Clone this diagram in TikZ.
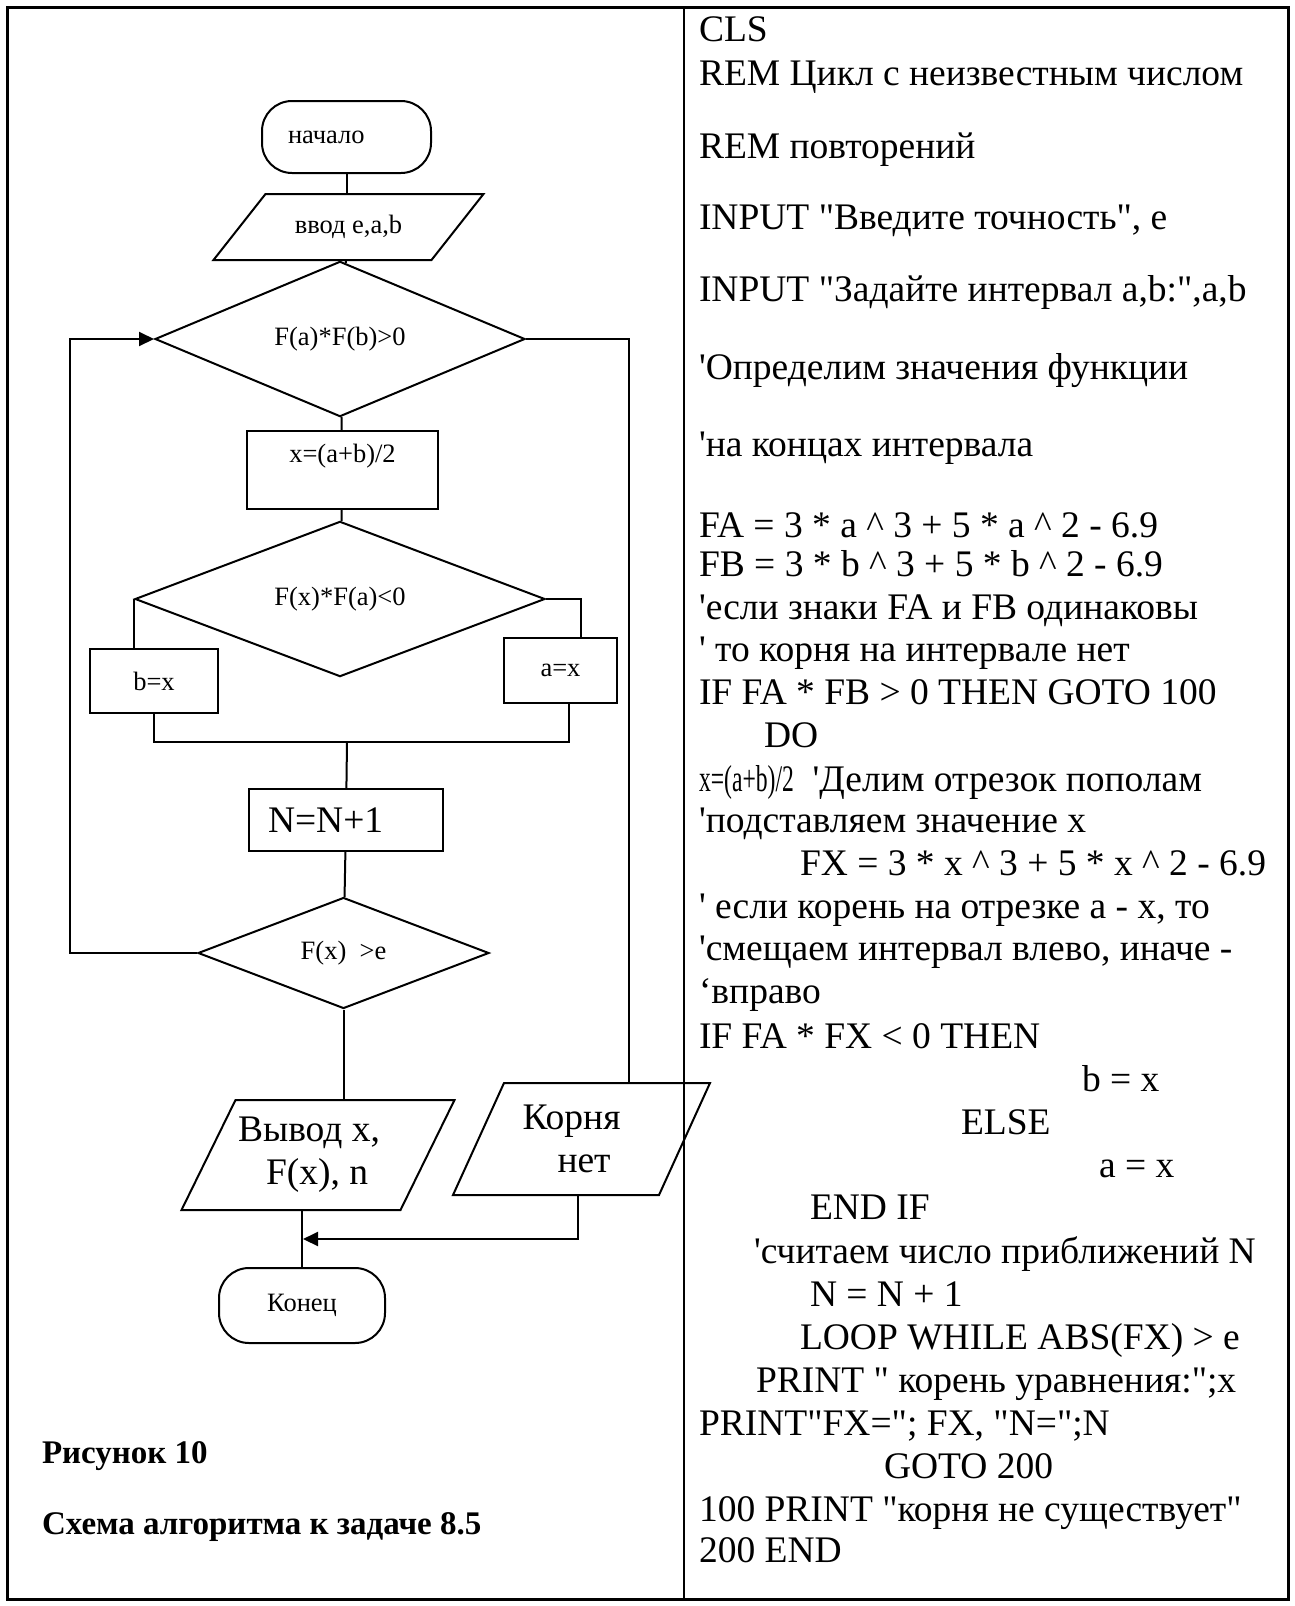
\documentclass[tikz,border=0pt]{standalone}
\usepackage{fontspec}
\usepackage{graphicx}
\setmainfont{Liberation Serif}[Ligatures=TeXOff]
\usetikzlibrary{shapes.geometric, arrows.meta}
\newcommand\apos{\textquotesingle}
\newcommand\caret{\textasciicircum}
% slanted box drawn round a plain node: #1 node name, #2 half of the slant
\newcommand\iobox[2]{\draw ([xshift=-#2]#1.south west) -- ([xshift=-#2]#1.south east) -- ([xshift=#2]#1.north east) -- ([xshift=#2]#1.north west) -- cycle;}

\begin{document}
\begin{tikzpicture}[x=1pt, y=-1pt, line width=2pt,
    every node/.style={font=\fontsize{26.5}{30}\selectfont},
    term/.style={draw, rectangle, rounded corners=30pt},
    proc/.style={draw, rectangle},
    cond/.style={draw, diamond, inner sep=0pt},
    io/.style={rectangle},
    big/.style={font=\fontsize{37.5}{43}\selectfont},
    code/.style={anchor=base west, inner sep=0pt, font=\fontsize{37.5}{43}\selectfont},
    capt/.style={anchor=base west, inner sep=0pt, font=\fontsize{33}{36}\selectfont\bfseries},
    >={Triangle[length=15pt, width=14pt]}]
    \useasboundingbox (0,0) rectangle (1295,1606);

    % frame and column divider
    \draw [line width=3pt] (7,7) rectangle (1288,1599);
    \draw [line width=2.5pt] (684,7) -- (684,1599);

    % flowchart
    \node [term, text width=117pt, inner xsep=26pt, minimum height=72pt, align=left] (start) at (346.5,137) {начало};
    \node [io, minimum width=216pt, minimum height=64pt] (in) at (348.5,227) {ввод e,a,b};
    \iobox{in}{26pt}
    \node [cond, minimum width=370pt, minimum height=112pt] (d1) at (340,339) {F(a)*F(b)>0};
    \node [proc, minimum width=191pt, minimum height=78pt, text depth=33pt] (calc) at (342.5,470) {x=(a+b)/2};
    \node [cond, minimum width=410pt, minimum height=113pt] (d2) at (340,599) {F(x)*F(a)<0};
    \node [proc, minimum width=128pt, minimum height=64pt] (bx) at (154,681) {b=x};
    \node [proc, minimum width=113pt, minimum height=65pt] (ax) at (560.5,670.5) {a=x};
    \coordinate (jn) at (347,742);
    \node [proc, big, text width=156pt, inner xsep=19pt, minimum height=62pt, align=left] (cnt) at (346,820) {N=N+1};
    \node [cond, minimum width=291pt, minimum height=111pt] (d3) at (343.5,953) {F(x) \ >e};
    \node [io, big, align=left, minimum width=217pt, minimum height=108pt] (out) at (318,1155) {Вывод x,\hspace*{18pt}\\ \hspace*{28pt}F(x), n};
    \iobox{out}{27pt}
    \node [io, big, align=left, minimum width=204pt, minimum height=110pt] (no) at (581.5,1139) {Корня\hspace*{20pt}\\ \hspace*{35pt}нет};
    \iobox{no}{25.5pt}
    \node [term, minimum width=166pt, minimum height=75pt] (fin) at (302,1305.5) {Конец};
    \coordinate (loopL) at (70,0);
    \coordinate (loopR) at (629,0);
    \coordinate (mrg) at (303,1239);

    \draw (start.south) -- (start.south |- in.north);
    \draw (in) -- (d1);
    \draw (d1) -- (calc);
    \draw (calc) -- (d2);
    \draw (d2.west) -- (d2.west |- bx.north);
    \draw (d2.east) -| ([xshift=20pt]ax.north);
    \draw (bx.south) |- (jn) -| ([xshift=8pt]ax.south);
    \draw (jn) -- (cnt);
    \draw (cnt) -- (d3);
    \draw [->] (d3.west) -- (d3.west -| loopL) |- (d1.west);
    \draw (d1.east) -- (d1.east -| loopR) -- (loopR |- no.north);
    \draw (d3.south) -- (d3.south |- out.north);
    \draw (out.south -| fin.north) -- (fin.north);
    \draw [->] ([xshift=-4pt]no.south) |- (mrg);

    % caption
    \node [capt] (fig) at (41,1463) {Рисунок 10};
    \node [capt] (cap) at (41,1534) {Схема алгоритма к задаче 8.5};

    % program text
    \node [code] (c1) at (698,41) {CLS};
    \node [code] (c2) at (698,85) {REM Цикл с неизвестным числом};
    \node [code] (c3) at (698,158) {REM повторений};
    \node [code] (c4) at (698,229) {INPUT "Введите точность", e};
    \node [code] (c5) at (698,301) {INPUT "Задайте интервал a,b:",a,b};
    \node [code] (c6) at (698,379) {\apos Определим значения функции};
    \node [code] (c7) at (698,456) {\apos на концах интервала};
    \node [code] (c8) at (698,537) {FA = 3 * a \caret{} 3 + 5 * a \caret{} 2 - 6.9};
    \node [code] (c9) at (698,576) {FB = 3 * b \caret{} 3 + 5 * b \caret{} 2 - 6.9};
    \node [code] (c10) at (698,619) {\apos если знаки FA и FB одинаковы};
    \node [code] (c11) at (698,661) {\apos{} то корня на интервале нет};
    \node [code] (c12) at (698,704) {IF FA * FB > 0 THEN GOTO 100};
    \node [code] (c13) at (763,747) {DO};
    \node [code] (c14) at (698,791) {\scalebox{0.63}[1]{x=(a+b)/2}\ \ \apos Делим отрезок пополам};
    \node [code] (c15) at (698,832) {\apos подставляем значение x};
    \node [code] (c16) at (799,875) {FX = 3 * x \caret{} 3 + 5 * x \caret{} 2 - 6.9};
    \node [code] (c17) at (698,918) {\apos{} если корень на отрезке a - x, то};
    \node [code] (c18) at (698,960) {\apos смещаем интервал влево, иначе -};
    \node [code] (c19) at (698,1003) {‘вправо};
    \node [code] (c20) at (698,1048) {IF FA * FX < 0 THEN};
    \node [code] (c21) at (1081,1091) {b = x};
    \node [code] (c22) at (960,1134) {ELSE};
    \node [code] (c23) at (1098,1177) {a = x};
    \node [code] (c24) at (809,1219) {END IF};
    \node [code] (c25) at (753,1263) {\apos считаем число приближений N};
    \node [code] (c26) at (809,1306) {N = N + 1};
    \node [code] (c27) at (799,1349) {LOOP WHILE ABS(FX) > e};
    \node [code] (c28) at (755,1392) {PRINT " корень уравнения:";x};
    \node [code] (c29) at (698,1435) {PRINT"FX="; FX, "N=";N};
    \node [code] (c30) at (883,1478) {GOTO 200};
    \node [code] (c31) at (698,1521) {100 PRINT "корня не существует"};
    \node [code] (c32) at (698,1562) {200 END};
\end{tikzpicture}
\end{document}
